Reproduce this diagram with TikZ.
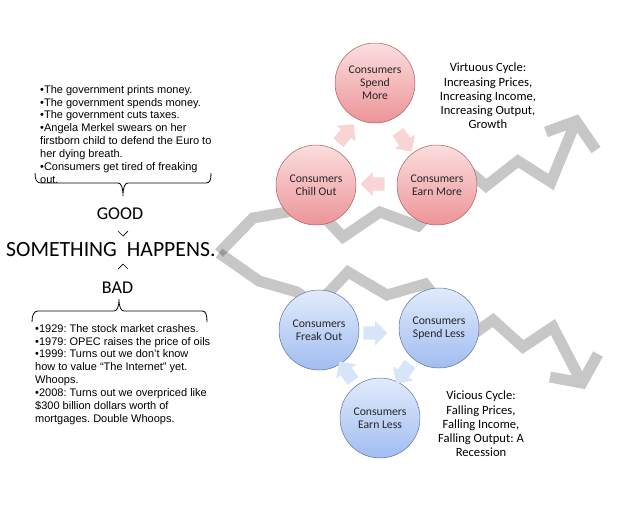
\documentclass[tikz,border=0pt]{standalone}
\usepackage{fontspec}
\setmainfont{Liberation Sans}
\newfontfamily\calib{Carlito}
\usetikzlibrary{shapes.arrows}
\frenchspacing
\definecolor{redtop}{RGB}{251,222,222}
\definecolor{redbot}{RGB}{237,148,152}
\definecolor{redline}{RGB}{165,95,95}
\definecolor{bluetop}{RGB}{226,235,252}
\definecolor{bluebot}{RGB}{160,189,240}
\definecolor{blueline}{RGB}{95,115,155}
\definecolor{pinkarrow}{RGB}{248,212,212}
\definecolor{bluearrow}{RGB}{216,229,249}
\begin{document}
\begin{tikzpicture}[x=1pt,y=-1pt,
  band/.style={line width=11pt, draw=black, draw opacity=0.22, line join=miter, miter limit=10},
  cyc/.style={circle, minimum size=80pt, inner sep=0pt, line width=0.5pt, align=center, text=black!85, font=\calib\fontsize{11.7}{12.8}\selectfont},
  redcyc/.style={cyc, draw=redline, top color=redtop, bottom color=redbot},
  bluecyc/.style={cyc, draw=blueline, top color=bluetop, bottom color=bluebot},
  blockarrow/.style={single arrow, minimum height=24pt, inner sep=6.5pt, single arrow head extend=5.5pt, draw=none},
  listtext/.style={anchor=north west, inner sep=0pt, align=left, font=\fontsize{11}{12.9}\selectfont},
  bigword/.style={inner sep=0pt, font=\calib\fontsize{18}{20}\selectfont},
  note/.style={align=center, inner sep=0pt, font=\calib\fontsize{12.6}{14.2}\selectfont},
  brace/.style={line width=0.8pt, draw=black}
]
\useasboundingbox (0,0) rectangle (640,512);
\fill[white] (0,0) rectangle (640,512);

% gray zigzag bands
\draw[band] (219,253) -- (253,218) -- (287,212) -- (312,204) -- (343,237) -- (380,212) -- (418,226) -- (470,172) -- (486,186) -- (518,161) -- (551,182) -- (576,121)
  (546,132) -- (576,121) -- (596,150);
\draw[band] (219,253) -- (259,281) -- (297,292) -- (316,306) -- (348,272) -- (387,295) -- (425,284) -- (468,338) -- (493,320) -- (523,347) -- (553,327) -- (582,383)
  (550,377) -- (582,383) -- (598,354);

% circles
\node[redcyc] (sm) at (375,83) {Consumers\\Spend\\More};
\node[redcyc] (co) at (316,185) {Consumers\\Chill Out};
\node[redcyc] (em) at (437,185) {Consumers\\Earn More};
\node[bluecyc] (fo) at (319,330) {Consumers\\Freak Out};
\node[bluecyc] (sl) at (439,328) {Consumers\\Spend Less};
\node[bluecyc] (el) at (380,418) {Consumers\\Earn Less};

% small block arrows
\node[blockarrow, fill=pinkarrow, rotate=50] (a1) at (344,136) {};
\node[blockarrow, fill=pinkarrow, rotate=-55] (a2) at (403,139) {};
\node[blockarrow, fill=pinkarrow, rotate=180] (a3) at (376,184) {};
\node[blockarrow, fill=bluearrow, rotate=0] (b1) at (372,333) {};
\node[blockarrow, fill=bluearrow, rotate=-125] (b2) at (405,371) {};
\node[blockarrow, fill=bluearrow, rotate=125] (b3) at (348,374) {};

% notes
\node[note] (virt) at (488,96) {Virtuous Cycle:\\Increasing Prices,\\Increasing Income,\\Increasing Output,\\Growth};
\node[note] (vic) at (481,424) {Vicious Cycle:\\Falling Prices,\\Falling Income,\\Falling Output: A\\Recession};

% left lists
\node[listtext] (goodlist) at (40,85) {•The government prints money.\\•The government spends money.\\•The government cuts taxes.\\•Angela Merkel swears on her\\firstborn child to defend the Euro to\\her dying breath.\\•Consumers get tired of freaking\\out.};
\node[listtext] (badlist) at (35,324) {•1929: The stock market crashes.\\•1979: OPEC raises the price of oils\\•1999: Turns out we don’t know\\how to value “The Internet” yet.\\Whoops.\\•2008: Turns out we overpriced like\\\$300 billion dollars worth of\\mortgages. Double Whoops.};

% braces
\draw[brace] (35,173) .. controls (35,180) and (37,183) .. (41,183) -- (118,183) .. controls (121,183) and (123,187) .. (123,196) .. controls (123,187) and (125,183) .. (128,183) -- (206,183) .. controls (210,183) and (211,180) .. (211,173);
\draw[brace] (32,322) .. controls (32,315) and (34,311) .. (38,311) -- (114,311) .. controls (117,311) and (119,307) .. (119,299) .. controls (119,307) and (121,311) .. (124,311) -- (202,311) .. controls (206,311) and (207,315) .. (207,322);

% words
\node[bigword] (goodw) at (120,214) {GOOD};
\node[bigword] (badw) at (117.5,288) {BAD};
\node[inner sep=0pt, anchor=west, font=\calib\fontsize{21.7}{24}\selectfont] (sh) at (6,250) {SOMETHING\hspace{10pt}HAPPENS.};
\draw[line width=0.7pt] (118,231) -- (123,236) -- (128,231);
\draw[line width=0.7pt] (118,269) -- (123,264) -- (128,269);
\end{tikzpicture}
\end{document}
